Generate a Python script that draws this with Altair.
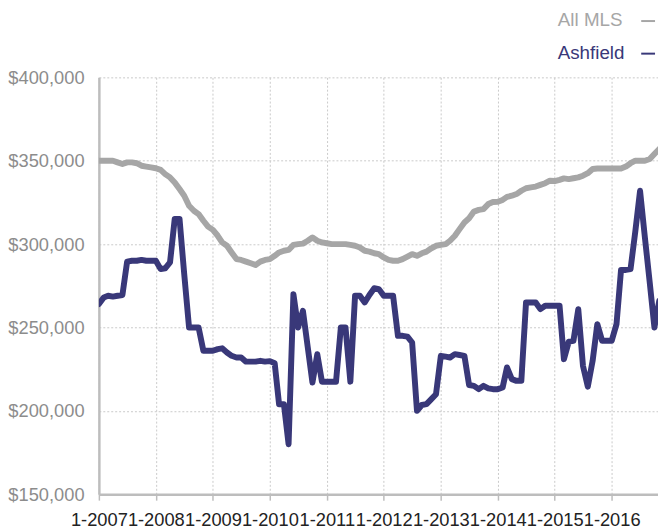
import altair as alt
import pandas as pd

# Monthly dates Jan 2007 .. Nov 2016
months = [f"{2007 + i // 12}-{i % 12 + 1:02d}-01T00:00:00" for i in range(119)]

series_names = ["All MLS", "Ashfield"]
series_colors = ["#a6a6a6", "#393879"]

# values in thousands of dollars
all_mls = [350, 350, 350, 350, 349, 348, 349, 349, 348.5, 347, 346.5, 346,
           345.5, 344.5, 342, 340, 337, 333, 329, 323, 320, 318, 314, 310.5,
           308.5, 305, 301, 299, 295, 291, 290.5, 289.5, 288.5, 287.5, 289.5, 290.5,
           291, 293, 295, 296, 296.5, 299.5, 300, 300.3, 302, 304, 302, 301,
           300.5, 300, 300, 300, 300, 299.5, 299, 298, 296, 295.5, 294.5, 294,
           292, 290.5, 290, 290, 291, 292.5, 294, 293, 294.5, 295.5, 297.5, 299,
           299.5, 300, 302, 305, 309, 313, 315.5, 319.5, 320.5, 321, 324, 325.2,
           325.4, 326.5, 328.3, 329, 330, 332, 333.5, 334, 334.5, 335.5, 336.5, 338,
           337.8, 338.5, 339.4, 339, 339.5, 340, 341, 342.5, 345, 345.3, 345.3, 345.3,
           345.3, 345.3, 345.3, 346.5, 348.5, 350, 350, 350, 351, 354, 357]

ashfield = [264, 268, 269, 268.5, 269, 269.5,
            289.5, 290, 290, 290.5, 290, 290,
            290, 285, 285.5, 289, 315, 315,
            282, 250, 250, 250, 236, 236,
            236, 237, 237.5, 235, 233, 232,
            232, 229.5, 229.5, 229.5, 230, 229.5,
            229.8, 228.5, 204, 204, 180, 270,
            250, 260, 238, 217, 234, 217.5,
            217.5, 217.5, 217.5, 250, 250, 217.5,
            269, 269, 265, 269.5, 273.5, 273,
            269, 269, 269, 245, 245, 244.5,
            241, 200, 203.5, 204, 207, 210,
            233, 232.5, 232, 234, 233.5, 233,
            215.5, 215, 213, 215, 213.5, 213,
            213, 214, 226, 219, 218, 218,
            265, 265, 265, 261, 263, 263,
            263, 263, 231, 241.5, 242, 261,
            227, 214.5, 230, 252, 242, 242,
            242, 252, 284.5, 284.5, 285, 308,
            332, 304, 277, 250, 266]

y_ticks = [150000, 200000, 250000, 300000, 350000, 400000]
x_tick_years = list(range(2007, 2017))

rows = []
for name, vals in zip(series_names, [all_mls, ashfield]):
    for d, v in zip(months, vals):
        rows.append({"date": d, "value": v * 1000, "series": name})
df = pd.DataFrame(rows)

FONT = "Liberation Sans"
GRID = "#c9c9c9"
AXIS = "#bdbdbd"

lines = alt.Chart(df).mark_line(
    strokeWidth=6, strokeJoin="round", strokeCap="round", clip=True
).encode(
    x=alt.X(
        "date:T",
        scale=alt.Scale(domain=[alt.DateTime(year=2007, month=1, date=1),
                                alt.DateTime(year=2016, month=10, date=24)]),
        axis=alt.Axis(
            values=[alt.DateTime(year=y, month=1, date=1) for y in x_tick_years],
            format="%-m-%Y", labelOverlap=False, labelFlush=False,
            labelFontSize=18.5, labelColor="#222222", labelFont=FONT,
            labelPadding=11, tickSize=6, tickColor=AXIS, tickWidth=1.5,
            domainColor=AXIS, domainWidth=2.5,
            grid=True, gridColor=GRID, gridDash=[2, 2], gridWidth=1,
            title=None,
        ),
    ),
    y=alt.Y(
        "value:Q",
        scale=alt.Scale(domain=[150000, 400000]),
        axis=alt.Axis(
            values=y_ticks, format="$,.0f", ticks=False,
            labelFontSize=18.5, labelColor="#8c8c8c", labelFont=FONT,
            labelPadding=15, domainColor=AXIS, domainWidth=2.5,
            grid=True, gridColor=GRID, gridDash=[2, 2], gridWidth=1,
            title=None,
        ),
    ),
    color=alt.Color("series:N",
                    scale=alt.Scale(domain=series_names, range=series_colors),
                    legend=None),
    order=alt.Order("series:N", sort="ascending"),
)

layers = [lines]
legend_pos = [(530, -58), (532, -25)]
for name, col, (lx, ly) in zip(series_names, series_colors, legend_pos):
    ldf = pd.DataFrame({"label": [name]})
    layers.append(
        alt.Chart(ldf).mark_text(
            align="right", baseline="middle", fontSize=19, font=FONT, color=col
        ).encode(text="label:N", x=alt.value(lx), y=alt.value(ly))
    )
    layers.append(
        alt.Chart(ldf).mark_rule(color=col, strokeWidth=2).encode(
            x=alt.value(549), x2=alt.value(563), y=alt.value(ly + 1)
        )
    )

chart = alt.layer(*layers).properties(
    width=566, height=422,
    padding={"left": 92, "top": 67, "right": 0, "bottom": 32},
    autosize=alt.AutoSizeParams(type="none"),
).configure_view(stroke=None)

chart.save("out.html", embed_options={"renderer": "svg", "actions": False})
